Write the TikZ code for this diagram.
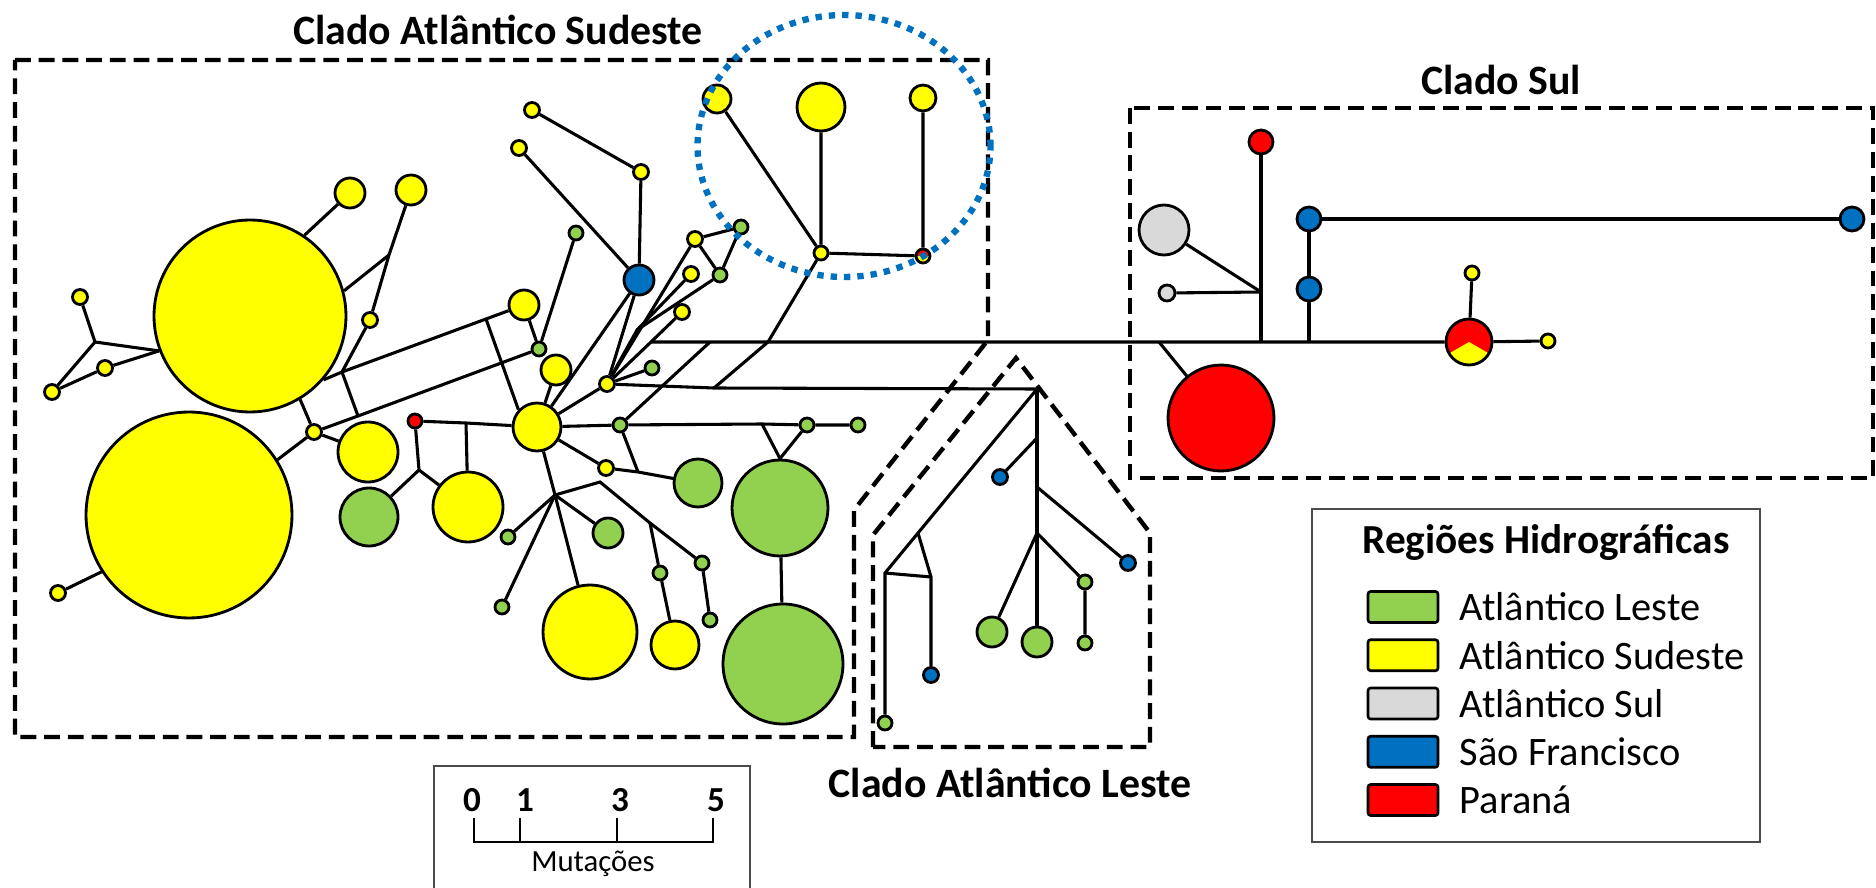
\documentclass[tikz,border=0pt]{standalone}
\usepackage{fontspec}
\setmainfont{Carlito}
\usepackage{tikz}
\usetikzlibrary{positioning}
\definecolor{csud}{RGB}{255,255,0}
\definecolor{cles}{RGB}{146,208,80}
\definecolor{csul}{RGB}{217,217,217}
\definecolor{csfr}{RGB}{0,112,192}
\definecolor{cpar}{RGB}{255,0,0}

\begin{document}
\begin{tikzpicture}[x=0.02cm,y=-0.02cm,
      hap/.style={circle,draw,line width=1.6pt,inner sep=0pt},
      sud/.style={hap,fill=csud,minimum size=#1*0.4mm},
      les/.style={hap,fill=cles,minimum size=#1*0.4mm},
      sul/.style={hap,fill=csul,minimum size=#1*0.4mm},
      sfr/.style={hap,fill=csfr,minimum size=#1*0.4mm},
      par/.style={hap,fill=cpar,minimum size=#1*0.4mm},
      link/.style={line width=1.75pt},
      cladebox/.style={line width=2.5pt,dash pattern=on 9pt off 4.5pt},
      cladename/.style={font=\bfseries\fontsize{23.8}{28}\selectfont},
      frame/.style={draw=black!70,line width=1pt},
      swatch/.style={draw,line width=1.5pt,rounded corners=1.5pt,minimum width=1.4cm,minimum height=0.62cm,inner sep=0pt},
      legtext/.style={font=\fontsize{23}{27}\selectfont,inner sep=0pt},
      scalenum/.style={font=\bfseries\fontsize{20}{24}\selectfont}]
  \useasboundingbox (0,0) rectangle (1876,888);

  % clade boxes
  \draw[cladebox] (15,60) -- (988,60) -- (988,340) -- (854,510) -- (854,737) -- (15,737) -- cycle;
  \draw[cladebox] (873,747) -- (873,535) -- (1016,358) -- (1150,533) -- (1150,747) -- cycle;
  \draw[cladebox] (1130,108) rectangle (1873,478);
  \node[cladename] (tsud) at (498,30) {Clado Atlântico Sudeste};
  \node[cladename] (tsul) at (1501,80) {Clado Sul};
  \node[cladename] (tles) at (1010,783) {Clado Atlântico Leste};

  % Atlantico Sudeste haplotypes
  \node[sud=96] (big1) at (250,316) {};
  \node[sud=103] (big2) at (189,515) {};
  \node[sud=7.5] (w1) at (80,297) {};
  \node[sud=7.5] (w2) at (52,392) {};
  \node[sud=7.5] (w3) at (105,368) {};
  \node[sud=15] (t1) at (350,193) {};
  \node[sud=15] (t2) at (411,190) {};
  \node[sud=7.5] (t3) at (370,320) {};
  \node[sud=7.5] (q1) at (314,432) {};
  \node[sud=30] (q2) at (368,452) {};
  \node[sud=7.5] (q3) at (58,593) {};
  \node[sud=35] (q4) at (468,507) {};
  \node[par=7] (q5) at (415,421) {};
  \node[les=29] (q6) at (369,517) {};
  \node[sud=15] (c1) at (524,305) {};
  \node[les=7] (c2) at (539,349) {};
  \node[les=7] (c3) at (576,233) {};
  \node[sud=15] (c4) at (556,370) {};
  \node[sud=24] (hub) at (537,427) {};
  \node[sud=7.5] (u1) at (532,110) {};
  \node[sud=7.5] (u2) at (519,148) {};
  \node[sud=7.5] (u3) at (641,172) {};
  \node[sfr=15] (u4) at (639,280) {};
  \node[sud=7.5] (fan) at (607,384) {};
  \node[sud=7.5] (f1) at (695,239) {};
  \node[sud=7.5] (f2) at (691,274) {};
  \node[sud=7.5] (f3) at (682,312) {};
  \node[les=7] (f4) at (741,227) {};
  \node[les=7] (f5) at (720,275) {};
  \node[les=7] (f6) at (652,368) {};
  \node[les=7] (h1) at (620,425) {};
  \node[les=7] (h2) at (807,425) {};
  \node[les=7] (h3) at (858,425) {};
  \node[les=48] (gbig1) at (780,508) {};
  \node[les=60] (gbig2) at (783,664) {};
  \node[sud=7.5] (d1) at (606,468) {};
  \node[les=24] (d2) at (698,483) {};
  \node[les=15] (d3) at (608,533) {};
  \node[les=7] (d4) at (508,537) {};
  \node[les=7] (d5) at (502,607) {};
  \node[sud=47] (d6) at (590,632) {};
  \node[les=7] (d7) at (660,573) {};
  \node[sud=24] (d8) at (675,645) {};
  \node[les=7] (d9) at (702,563) {};
  \node[les=7] (d10) at (710,620) {};
  % encircled group
  \node[sud=14] (e1) at (717,99) {};
  \node[sud=24] (e2) at (821,107) {};
  \node[sud=13] (e3) at (923,98) {};
  \node[sud=7] (e4) at (821,253) {};
  \node[sud=7,path picture={\fill[cpar] (path picture bounding box.north west) rectangle (path picture bounding box.east);}] (e5) at (923,256) {};

  % Atlantico Leste haplotypes
  \node[sfr=7.5] (l1) at (1000,477) {};
  \node[sfr=7.5] (l2) at (1128,563) {};
  \node[les=15] (l3) at (992,632) {};
  \node[les=15] (l4) at (1037,642) {};
  \node[les=7] (l5) at (1085,582) {};
  \node[les=7] (l6) at (1085,643) {};
  \node[les=7] (l7) at (885,723) {};
  \node[sfr=7.5] (l8) at (931,675) {};

  % Sul haplotypes
  \node[par=53] (s1) at (1221,418) {};
  \node[par=12] (s2) at (1261,142) {};
  \node[sul=25] (s3) at (1164,230) {};
  \node[sul=8] (s4) at (1167,293) {};
  \node[sfr=12] (s5) at (1309,289) {};
  \node[sfr=12] (s6) at (1309,219) {};
  \node[sfr=12] (s7) at (1852,219) {};
  \node[par=23,path picture={\fill[csud] (path picture bounding box.center) -- ++(210:2cm) -- ++(0:3.464cm) -- cycle;}] (s8) at (1469,342) {};
  \node[sud=7] (s9) at (1472,273) {};
  \node[sud=7] (s10) at (1548,341) {};

  % median vectors
  \coordinate (j1) at (95,342);
  \coordinate (j2) at (389,255);
  \coordinate (a1) at (342,372);
  \coordinate (a2) at (486,319);
  \coordinate (b1) at (358,416);
  \coordinate (r1) at (466,423);
  \coordinate (r2) at (419,470);
  \coordinate (fj) at (637,330);
  \coordinate (m0) at (651,342);
  \coordinate (m1) at (710,342);
  \coordinate (m2) at (768,342);
  \coordinate (m3) at (714,388);
  \coordinate (k0) at (638,472);
  \coordinate (k1) at (555,495);
  \coordinate (k2) at (600,482);
  \coordinate (k3) at (650,523);
  \coordinate (k4) at (762,424);
  \coordinate (ltop) at (1037,389);
  \coordinate (lv1) at (1037,438);
  \coordinate (lv2) at (1037,487);
  \coordinate (lv3) at (1037,533);
  \coordinate (ld1) at (918,533);
  \coordinate (ld2) at (885,573);
  \coordinate (ld3) at (931,577);
  \coordinate (n1) at (1159,342);
  \coordinate (n2) at (1261,342);
  \coordinate (n3) at (1309,342);
  \coordinate (n4) at (1261,292);

  % links
  \draw[link] (w1) -- (j1) -- (w2) -- (w3) -- (big1.201);
  \draw[link] (j1) -- (big1.201);
  \draw[link] (t1) -- (big1.56);
  \draw[link] (t2) -- (j2) -- (t3) -- (a1) -- (b1);
  \draw[link] (j2) -- (big1.15);
  \draw[link] (big1.319) -- (a1) -- (a2) -- (c1) -- (c2) -- (c3);
  \draw[link] (a2) -- (hub.137);
  \draw[link] (big1.301) -- (q1) -- (b1) -- (c2);
  \draw[link] (q1) -- (q2);
  \draw[link] (q1) -- (big2.32);
  \draw[link] (big2.213) -- (q3);
  \draw[link] (c4) -- (hub);
  \draw[link] (q5) -- (r1) -- (hub);
  \draw[link] (r1) -- (q4);
  \draw[link] (q5) -- (r2) -- (q6);
  \draw[link] (r2) -- (q4);
  \draw[link] (hub) -- (h1) -- (k4) -- (h2) -- (h3);
  \draw[link] (k4) -- (gbig1.north) -- (h2);
  \draw[link] (gbig1) -- (gbig2);
  \draw[link] (hub) -- (u4);
  \draw[link] (hub) -- (fan);
  \draw[link] (u1) -- (u3) -- (u4) -- (u2);
  \draw[link] (fan) -- (u4);
  \draw[link] (fan) -- (f1) -- (f4) -- (f5) -- (f1);
  \draw[link] (fan) -- (fj) -- (f2);
  \draw[link] (fj) -- (f5);
  \draw[link] (fan) -- (m0) -- (f3);
  \draw[link] (fan) -- (f6);
  \draw[link] (fan) -- (m3) -- (ltop);
  \draw[link] (h1) -- (m1);
  \draw[link] (m3) -- (m2) -- (e4);
  \draw[link] (e1) -- (e4) -- (e2);
  \draw[link] (e4) -- (e5) -- (e3);
  \draw[link] (hub) -- (d1) -- (k0) -- (d2);
  \draw[link] (h1) -- (k0);
  \draw[link] (hub) -- (k1) -- (d6);
  \draw[link] (k1) -- (d4);
  \draw[link] (k1) -- (d5);
  \draw[link] (k1) -- (d3);
  \draw[link] (k1) -- (k2) -- (k3) -- (d9) -- (d10);
  \draw[link] (k3) -- (d7) -- (d8);
  \draw[link] (ltop) -- (lv1) -- (lv2) -- (lv3) -- (l4);
  \draw[link] (lv1) -- (l1);
  \draw[link] (lv2) -- (l2);
  \draw[link] (lv3) -- (l3);
  \draw[link] (lv3) -- (l5) -- (l6);
  \draw[link] (ltop) -- (ld1) -- (ld2) -- (l7);
  \draw[link] (ld1) -- (ld3) -- (l8);
  \draw[link] (ld2) -- (ld3);
  \draw[link] (m0) -- (m1) -- (m2) -- (n1) -- (n2) -- (n3) -- (s8) -- (s10);
  \draw[link] (s8) -- (s9);
  \draw[link] (n1) -- (s1);
  \draw[link] (n2) -- (n4) -- (s2);
  \draw[link] (n4) -- (s3);
  \draw[link] (n4) -- (s4);
  \draw[link] (n3) -- (s5) -- (s6) -- (s7);

  % highlighted group
  \draw[csfr,line width=3.6pt,dash pattern=on 3.6pt off 4pt] (844,146) ellipse [x radius=2.93cm,y radius=2.62cm];

  % legend
  \draw[frame] (1312,509) rectangle (1760,842);
  \node[font=\bfseries\fontsize{23.5}{28}\selectfont] (legtitle) at (1546,542) {Regiões Hidrográficas};
  \foreach \c/\t [count=\i] in {cles/Atlântico Leste,csud/Atlântico Sudeste,csul/Atlântico Sul,csfr/São Francisco,cpar/Paraná}{
    \node[swatch,fill=\c] (sw\i) at (1403,{558.75+48.25*\i}) {};
    \node[legtext,right=0.4cm of sw\i] (lab\i) {\t};
  }

  % scale
  \draw[frame] (434,888) |- (750,766) -- (750,888);
  \draw[line width=1.4pt] (474,818) -- (474,842) -- (713,842) -- (713,818);
  \draw[line width=1.4pt] (520,842) -- (520,818);
  \draw[line width=1.4pt] (617,842) -- (617,818);
  \node[scalenum] (sc0) at (472,800) {0};
  \node[scalenum] (sc1) at (525,800) {1};
  \node[scalenum] (sc3) at (620,800) {3};
  \node[scalenum] (sc5) at (716,800) {5};
  \node[font=\fontsize{17.5}{20}\selectfont] (mut) at (593,864) {Mutações};
\end{tikzpicture}
\end{document}
